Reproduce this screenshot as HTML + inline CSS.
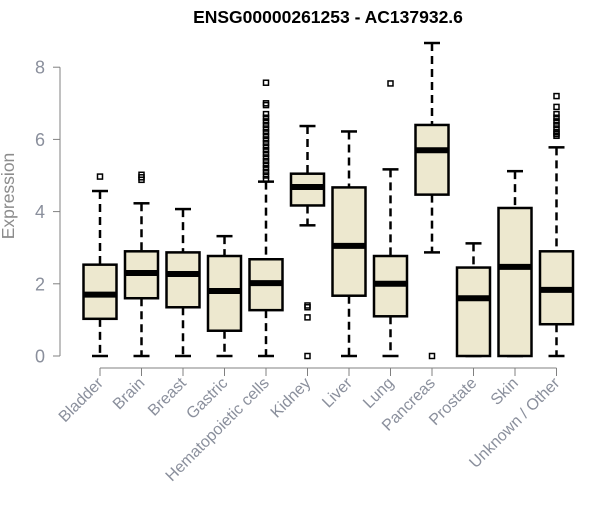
<!DOCTYPE html>
<html><head><meta charset="utf-8"><style>
body{margin:0;background:#fff;}
svg text{font-family:"Liberation Sans",Arial,sans-serif;}
</style></head><body>
<svg id="chart" width="600" height="500">
<text x="328" y="23" text-anchor="middle" font-size="17.5" font-weight="bold">ENSG00000261253 - AC137932.6</text>
<text transform="translate(14,196) rotate(-90)" text-anchor="middle" font-size="17.5" fill="#8c8c8c">Expression</text>
<g id="yaxis"></g>
<g id="xaxis"></g>
<g id="boxes"></g>
</svg>
<script>
const categories=["Bladder","Brain","Breast","Gastric","Hematopoietic cells","Kidney","Liver","Lung","Pancreas","Prostate","Skin","Unknown / Other"];
const whiskerLow=[0,0,0,0,0,3.62,0,0,2.87,0,0,0];
const q1=[1.03,1.6,1.35,0.7,1.27,4.17,1.67,1.1,4.47,0,0,0.88];
const medians=[1.7,2.3,2.27,1.8,2.02,4.68,3.05,2.0,5.7,1.6,2.47,1.83];
const q3=[2.53,2.9,2.87,2.77,2.68,5.05,4.67,2.77,6.4,2.45,4.1,2.9];
const whiskerHigh=[4.57,4.23,4.07,3.32,4.83,6.37,6.22,5.17,8.67,3.12,5.12,5.78];
const outliers=[[4.97],[4.88,4.95,5.02],[],[],[4.9,5.0,5.1,5.2,5.3,5.4,5.5,5.6,5.7,5.8,5.9,6.0,6.1,6.2,6.3,6.4,6.5,6.6,6.7,6.95,7.0,7.57],[1.4,1.35,1.07,0],[],[7.55],[0],[],[],[6.1,6.15,6.2,6.3,6.4,6.5,6.6,6.7,6.9,7.2]];
const yTicks=[0,2,4,6,8];
const NS="http://www.w3.org/2000/svg";
function y(v){return 356-v*36.1;}
function x(i){return 100+i*41.5;}
function mk(tag,attrs,parent){const e=document.createElementNS(NS,tag);for(const k in attrs)e.setAttribute(k,attrs[k]);parent.appendChild(e);return e;}
const ya=document.getElementById('yaxis'),xa=document.getElementById('xaxis'),bx=document.getElementById('boxes');
mk('line',{x1:60,x2:60,y1:y(8),y2:y(0),stroke:'#808080'},ya);
yTicks.forEach(t=>{
 mk('line',{x1:53,x2:60,y1:y(t),y2:y(t),stroke:'#808080'},ya);
 const tx=mk('text',{x:45,y:y(t)+6.5,'text-anchor':'end','font-size':18,fill:'#8a8f9c'},ya);
 tx.textContent=t;
 
 
});
mk('line',{x1:x(0),x2:x(categories.length-1),y1:368,y2:368,stroke:'#808080'},xa);
categories.forEach((c,i)=>{
 mk('line',{x1:x(i),x2:x(i),y1:368,y2:376,stroke:'#808080'},xa);
 const tx=mk('text',{transform:`translate(${x(i)+4},384) rotate(-45)`,'text-anchor':'end','font-size':16,fill:'#8a8f9c'},xa);
 tx.textContent=c;
 
 
});
categories.forEach((c,i)=>{
 const g=mk('g',{},bx);
 
 
 const cx=x(i),hw=16.5;
 mk('line',{x1:cx,x2:cx,y1:y(whiskerHigh[i]),y2:y(q3[i]),stroke:'#000','stroke-width':2.5,'stroke-dasharray':'8,5'},g);
 mk('line',{x1:cx,x2:cx,y1:y(q1[i]),y2:y(whiskerLow[i]),stroke:'#000','stroke-width':2.5,'stroke-dasharray':'8,5'},g);
 mk('line',{x1:cx-8,x2:cx+8,y1:y(whiskerHigh[i]),y2:y(whiskerHigh[i]),stroke:'#000','stroke-width':2.5},g);
 mk('line',{x1:cx-8,x2:cx+8,y1:y(whiskerLow[i]),y2:y(whiskerLow[i]),stroke:'#000','stroke-width':2.5},g);
 mk('rect',{x:cx-hw,y:y(q3[i]),width:hw*2,height:y(q1[i])-y(q3[i]),fill:'#ede8cf',stroke:'#000','stroke-width':2.5},g);
 mk('line',{x1:cx-hw,x2:cx+hw,y1:y(medians[i]),y2:y(medians[i]),stroke:'#000','stroke-width':6},g);
 outliers[i].forEach(o=>{
  const p=mk('rect',{x:cx-2.5,y:y(o)-2.5,width:5,height:5,fill:'none',stroke:'#000','stroke-width':1.5},g);
  
  
 });
});
</script>
</body></html>
